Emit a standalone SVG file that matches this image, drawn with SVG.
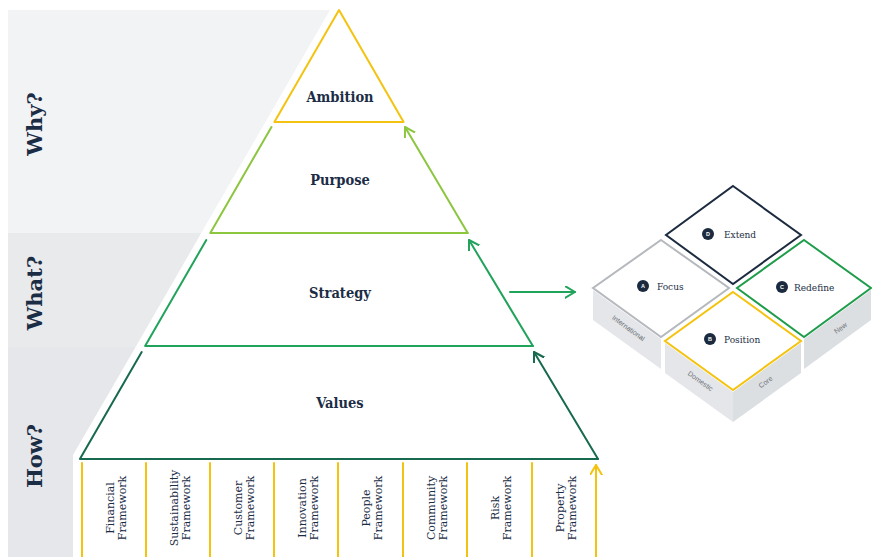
<svg xmlns="http://www.w3.org/2000/svg" width="872" height="557" viewBox="0 0 872 557">
<style>
.head{font-family:"DejaVu Serif Condensed","DejaVu Serif",serif;font-weight:bold;font-size:14.5px;fill:#1b2d45;text-anchor:middle}
.side{font-family:"DejaVu Serif","Liberation Serif",serif;font-weight:bold;font-size:21px;fill:#1b2d45;text-anchor:middle}
.fw{font-family:"DejaVu Serif","Liberation Serif",serif;font-size:11px;fill:#1b2d45;text-anchor:middle}
.tile{font-family:"DejaVu Serif Condensed","DejaVu Serif",serif;font-size:10px;fill:#1b2d45}
.badge{font-family:"Liberation Sans",Arial,sans-serif;font-size:5.5px;font-weight:bold;fill:#fff;text-anchor:middle}
.face{font-family:"Liberation Sans",Arial,sans-serif;font-size:7px;fill:#6d7176;text-anchor:middle}
.ln{fill:none;stroke-width:2;stroke-linecap:round;stroke-linejoin:round}
.yl{stroke:#f4c30f}.lg{stroke:#8cc63f}.mg{stroke:#22a35b}.dg{stroke:#17694f}
</style>
<defs>
<marker id="ah-lg" markerUnits="userSpaceOnUse" markerWidth="14" markerHeight="14" refX="10" refY="6" orient="auto"><path d="M0,0 L10,6 L0,12" fill="none" stroke="#8cc63f" stroke-width="2" stroke-linecap="round" stroke-linejoin="round"/></marker>
<marker id="ah-mg" markerUnits="userSpaceOnUse" markerWidth="14" markerHeight="14" refX="10" refY="6" orient="auto"><path d="M0,0 L10,6 L0,12" fill="none" stroke="#22a35b" stroke-width="2" stroke-linecap="round" stroke-linejoin="round"/></marker>
<marker id="ah-dg" markerUnits="userSpaceOnUse" markerWidth="14" markerHeight="14" refX="10" refY="6" orient="auto"><path d="M0,0 L10,6 L0,12" fill="none" stroke="#17694f" stroke-width="2" stroke-linecap="round" stroke-linejoin="round"/></marker>
<marker id="ah-yl" markerUnits="userSpaceOnUse" markerWidth="14" markerHeight="14" refX="10" refY="6" orient="auto"><path d="M0,0 L10,6 L0,12" fill="none" stroke="#f4c30f" stroke-width="2" stroke-linecap="round" stroke-linejoin="round"/></marker>
</defs>
<rect width="872" height="557" fill="#ffffff"/>

<g id="bands">
<path d="M8,10 H330 L201.3,233 H8 Z" fill="#f2f3f5"/>
<path d="M8,233 H201.3 L135.6,347 H8 Z" fill="#e8eaec"/>
<path d="M8,347 H135.6 L73,455 V557 H8 Z" fill="#e5e7ea"/>
<text class="side" transform="translate(42,124) rotate(-90)">Why?</text>
<text class="side" transform="translate(42,293) rotate(-90)">What?</text>
<text class="side" transform="translate(42,456) rotate(-90)">How?</text>
</g>

<g id="ambition">
<polygon class="ln yl" points="339,10 403.6,122 274.4,122"/>
<text class="head" x="340" y="102">Ambition</text>
</g>
<g id="purpose">
<path class="ln lg" d="M271.5,127 L210.3,233 H467.7"/>
<text class="head" x="340" y="185">Purpose</text>
</g>
<g id="strategy">
<path class="ln mg" d="M206.3,240 L145.1,346 H532.9"/>
<text class="head" x="340" y="298">Strategy</text>
</g>
<g id="values">
<path class="ln dg" d="M141.7,352 L79.9,459 H598"/>
<text class="head" x="340" y="408">Values</text>
</g>

<g id="frameworks">
<g class="ln yl">
<line x1="82" y1="463" x2="82" y2="557"/>
<line x1="146" y1="463" x2="146" y2="557"/>
<line x1="210" y1="463" x2="210" y2="557"/>
<line x1="274" y1="463" x2="274" y2="557"/>
<line x1="338" y1="463" x2="338" y2="557"/>
<line x1="403" y1="463" x2="403" y2="557"/>
<line x1="467" y1="463" x2="467" y2="557"/>
<line x1="532" y1="463" x2="532" y2="557"/>
</g>
<text class="fw" transform="translate(113.5,508) rotate(-90)"><tspan x="0" y="0">Financial</tspan><tspan x="0" y="12">Framework</tspan></text>
<text class="fw" transform="translate(177.5,508) rotate(-90)"><tspan x="0" y="0">Sustainability</tspan><tspan x="0" y="12">Framework</tspan></text>
<text class="fw" transform="translate(241.5,508) rotate(-90)"><tspan x="0" y="0">Customer</tspan><tspan x="0" y="12">Framework</tspan></text>
<text class="fw" transform="translate(305.5,508) rotate(-90)"><tspan x="0" y="0">Innovation</tspan><tspan x="0" y="12">Framework</tspan></text>
<text class="fw" transform="translate(370,508) rotate(-90)"><tspan x="0" y="0">People</tspan><tspan x="0" y="12">Framework</tspan></text>
<text class="fw" transform="translate(434.5,508) rotate(-90)"><tspan x="0" y="0">Community</tspan><tspan x="0" y="12">Framework</tspan></text>
<text class="fw" transform="translate(499,508) rotate(-90)"><tspan x="0" y="0">Risk</tspan><tspan x="0" y="12">Framework</tspan></text>
<text class="fw" transform="translate(563.5,508) rotate(-90)"><tspan x="0" y="0">Property</tspan><tspan x="0" y="12">Framework</tspan></text>
</g>

<g id="connectors">
<path class="ln lg" d="M467.7,233 L405,127" marker-end="url(#ah-lg)"/>
<path class="ln mg" d="M532.9,346 L469,240" marker-end="url(#ah-mg)"/>
<path class="ln dg" d="M598,459 L534,352" marker-end="url(#ah-dg)"/>
<path class="ln yl" d="M596,557 V465" marker-end="url(#ah-yl)"/>
<path class="ln mg" d="M510,292 H575" marker-end="url(#ah-mg)"/>
</g>

<g id="matrix">
<polygon points="593,290 661,339 661,369 593,320" fill="#e4e6e9"/>
<polygon points="665,343 733,392 733,422 665,373" fill="#e4e6e9"/>
<polygon points="733,392 801,343 801,373 733,422" fill="#dcdfe2"/>
<polygon points="804,339 871,290 871,320 804,369" fill="#dcdfe2"/>
<text class="face" transform="translate(627,330) rotate(36)">International</text>
<text class="face" transform="translate(699,383) rotate(36)">Domestic</text>
<text class="face" transform="translate(767,384) rotate(-36)">Core</text>
<text class="face" transform="translate(842,330) rotate(-36)">New</text>
</g>

<g id="tile-extend">
<polygon points="733,186 801,235 733,284 666,235" fill="#fff" stroke="#1c2b3f" stroke-width="2"/>
<circle cx="708" cy="234" r="6" fill="#1b2a3e"/><text class="badge" x="708" y="236">D</text>
<text class="tile" x="724" y="238">Extend</text>
</g>
<g id="tile-focus">
<polygon points="661,240 729,288 661,337 593,288" fill="#fff" stroke="#b5b9bd" stroke-width="2"/>
<circle cx="643" cy="286" r="6" fill="#1b2a3e"/><text class="badge" x="643" y="288">A</text>
<text class="tile" x="657" y="290">Focus</text>
</g>
<g id="tile-redefine">
<polygon points="804,240 871,288 804,337 737,288" fill="#fff" stroke="#1f9d4b" stroke-width="2"/>
<circle cx="782" cy="287" r="6" fill="#1b2a3e"/><text class="badge" x="782" y="289">C</text>
<text class="tile" x="794" y="291">Redefine</text>
</g>
<g id="tile-position">
<polygon points="733,292 801,341 733,390 665,341" fill="#fff" stroke="#f4c30f" stroke-width="2"/>
<circle cx="710" cy="339" r="6" fill="#1b2a3e"/><text class="badge" x="710" y="341">B</text>
<text class="tile" x="724" y="343">Position</text>
</g>
</svg>
